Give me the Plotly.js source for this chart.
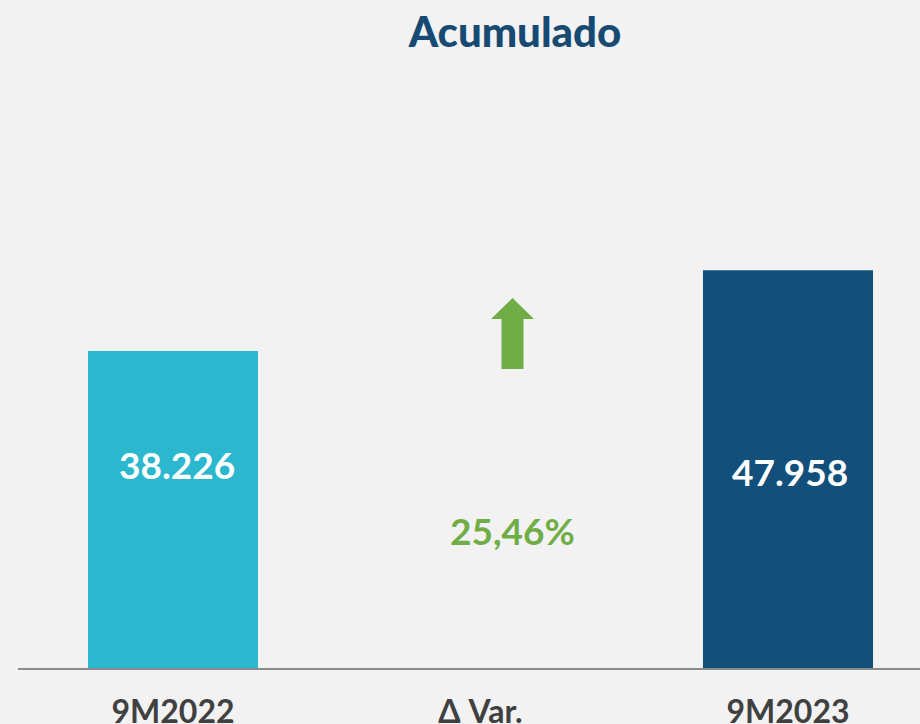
<!DOCTYPE html>
<html>
<head>
<meta charset="utf-8">
<script src="https://cdn.plot.ly/plotly-3.0.1.min.js"></script>
<style>html,body{margin:0;padding:0;background:#f2f2f2;}#chart{width:920px;height:724px;}</style>
</head>
<body>
<div id="chart"></div>
<script>
const categories = ["9M2022", "Δ Var.", "9M2023"];
const tickLabels = ["9M2022", "Δ Var.", "9M2023"];
const values = [38226, null, 47958];
const valueLabels = ["38.226", "", "47.958"];
const variationLabel = "25,46%";
const barColors = ["#2bb8cf", "#f2f2f2", "#134f7b"];

const trace = {
  type: "bar",
  x: categories,
  y: values,
  width: 0.553,
  marker: {color: barColors},
  hoverinfo: "none"
};

const labelFrac = [0.642, 0, 0.493];
const annotations = [];
[0, 2].forEach(i => {
  annotations.push({
    x: categories[i], y: values[i] * labelFrac[i], xref: "x", yref: "y",
    text: valueLabels[i], showarrow: false, xshift: i === 0 ? 4 : 2,
    font: {family: "Lato", size: 37, color: "#ffffff", weight: 700}
  });
});
annotations.push({
  x: categories[1], y: 16600, xref: "x", yref: "y",
  text: variationLabel, showarrow: false, xshift: 32,
  font: {family: "Lato", size: 37, color: "#70ad47", weight: 700}
});

const layout = {
  width: 920, height: 724,
  paper_bgcolor: "#f2f2f2", plot_bgcolor: "#f2f2f2",
  margin: {l: 18, r: 0, t: 80, b: 56},
  showlegend: false,
  title: {
    text: "Acumulado", x: 0.551, xanchor: "center", y: 0.955, yanchor: "middle",
    xref: "paper", yref: "container",
    font: {family: "Lato", size: 42, color: "#164a72", weight: 900}
  },
  xaxis: {
    type: "category", range: [-0.5041, 2.4293],
    tickvals: categories, ticktext: tickLabels,
    showline: true, linecolor: "#8c8c8c", linewidth: 1.5,
    showgrid: false, zeroline: false, ticks: "",
    ticklabelstandoff: 15,
    tickfont: {family: "Lato", size: 32, color: "#404040", weight: 700},
    fixedrange: true
  },
  yaxis: {
    range: [0, 70900], visible: false, showgrid: false, zeroline: false, fixedrange: true
  },
  annotations: annotations,
  shapes: [{
    type: "path", xref: "x", yref: "y",
    xsizemode: "pixel", ysizemode: "pixel",
    xanchor: categories[1], yanchor: 36040,
    path: "M 21,0 L 43,0 L 43,50 L 53.5,50 L 32,71 L 10.5,50 L 21,50 Z",
    fillcolor: "#70ad47", line: {width: 0}
  }]
};

Plotly.newPlot("chart", [trace], layout, {displayModeBar: false, staticPlot: true});
</script>
</body>
</html>
